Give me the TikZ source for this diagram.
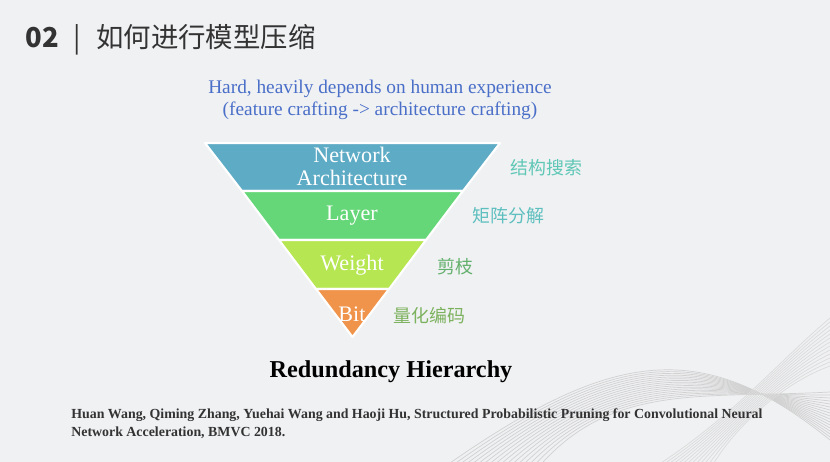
\documentclass[tikz,border=0pt]{standalone}
\usepackage{fontspec}
\usepackage{xcolor}
\usepackage{tikz}
\usetikzlibrary{positioning,calc}
\setmainfont{Liberation Serif}
\newfontfamily\cjk{Noto Sans CJK SC}

\definecolor{bgGray}{HTML}{F0F1F3}
\definecolor{titleGray}{HTML}{333333}
\definecolor{noteBlue}{HTML}{4A6FC8}
\definecolor{archBlue}{HTML}{5EABC6}
\definecolor{layerGreen}{HTML}{66D778}
\definecolor{weightLime}{HTML}{B6E651}
\definecolor{bitOrange}{HTML}{F0944B}
\definecolor{tealA}{HTML}{5EC7B6}
\definecolor{tealB}{HTML}{5DBFBE}
\definecolor{greenA}{HTML}{62B06C}
\definecolor{greenB}{HTML}{7CB25E}

\tikzset{
  band/.style={draw=white, line width=1.2pt, line join=round},
  bandtext/.style={text=white, font=\fontsize{12.6}{13}\selectfont, align=center},
  sidelabel/.style={font=\cjk\fontsize{10.2}{12}\selectfont, anchor=west, inner sep=0pt},
  refline/.style={anchor=west, inner sep=0pt, text=titleGray, font=\bfseries\fontsize{7.9}{9}\selectfont},
}

\begin{document}
\begin{tikzpicture}[x=0.02cm, y=-0.02cm]
            % page and background
            \fill[bgGray] (0,0) rectangle (830,462);
            \useasboundingbox (0,0) rectangle (830,462);

            % wave ribbon in the lower right
            \foreach \i in {0,...,16}
              \draw[black!18, line width=0.4pt] (440+6*\i,470) .. controls (610,350+2*\i) and (700,335+4*\i) .. (830,440-3*\i);
            \foreach \i in {0,...,12}
              \draw[black!14, line width=0.4pt] (650+5*\i,470) .. controls (730,420+\i) and (780,360+2*\i) .. (830,318+4*\i);

            % title
            \node[anchor=west, inner sep=0pt, text=titleGray, font=\cjk\fontsize{15.6}{18}\selectfont] (title) at (25,40) {\textbf{02}\hspace{0.55em}|\hspace{0.55em}如何进行模型压缩};

            % remark above the funnel
            \node[text=noteBlue, font=\fontsize{11}{12.3}\selectfont, align=center] (remark) at (380,100) {Hard, heavily depends on human experience\\(feature crafting -> architecture crafting)};

            % funnel bands
            \draw[band, fill=archBlue]   (205,143) -- (500,143) -- (463,191) -- (242,191) -- cycle;
            \draw[band, fill=layerGreen] (242,191) -- (463,191) -- (426,240) -- (279,240) -- cycle;
            \draw[band, fill=weightLime] (279,240) -- (426,240) -- (389,289) -- (316,289) -- cycle;
            \draw[band, fill=bitOrange]  (316,289) -- (389,289) -- (352.5,337) -- cycle;

            \node[bandtext] (arch) at (352,166.5) {Network\\Architecture};
            \node[bandtext] (layer) at (352,216) {Layer};
            \node[bandtext] (weight) at (352,265) {Weight};
            \node[bandtext] (bit) at (352,314) {Bit};

            % methods beside each level
            \node[sidelabel, text=tealA] (nas) at (510,168) {结构搜索};
            \node[sidelabel, text=tealB] (decomp) at (472,216) {矩阵分解};
            \node[sidelabel, text=greenA] (prune) at (437,267) {剪枝};
            \node[sidelabel, text=greenB] (quant) at (393,316) {量化编码};

            % caption and reference
            \node[font=\bfseries\fontsize{13.8}{15}\selectfont] (caption) at (391,372) {Redundancy Hierarchy};
            \node[refline] (ref1) at (71,415) {Huan Wang, Qiming Zhang, Yuehai Wang and Haoji Hu, Structured Probabilistic Pruning for Convolutional Neural};
            \node[refline] (ref2) at (71,433) {Network Acceleration, BMVC 2018.};
        \end{tikzpicture}
\end{document}
